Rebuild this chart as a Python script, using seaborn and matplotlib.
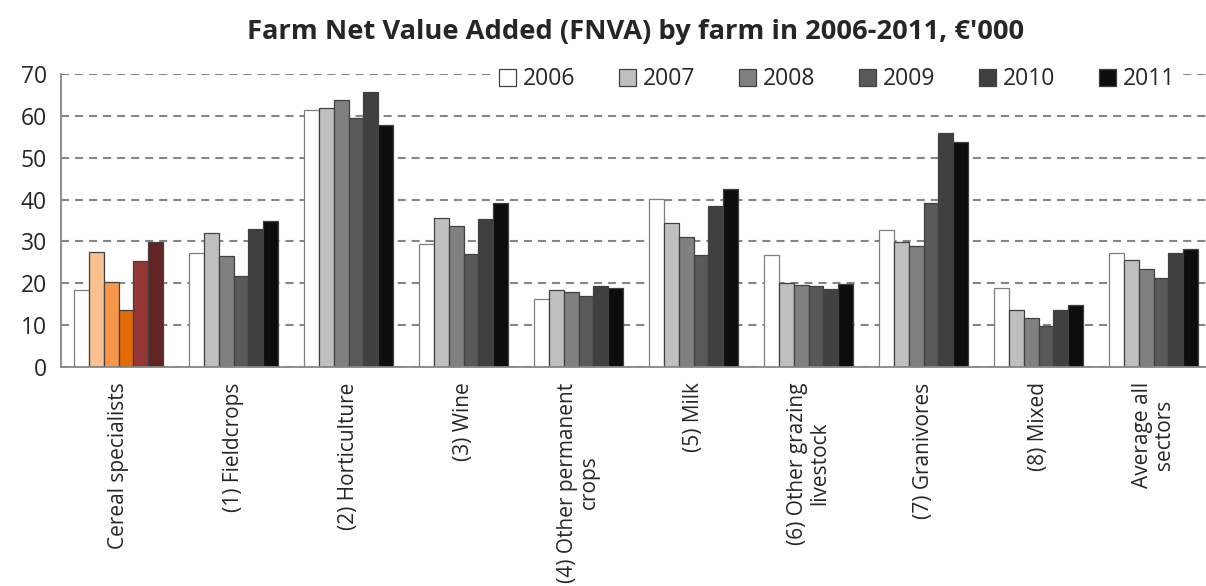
import pandas as pd
import numpy as np
import matplotlib
matplotlib.use("Agg")
import matplotlib.pyplot as plt
import seaborn as sns

sns.set_style("white")
plt.rcParams['font.family'] = ['Open Sans', 'DejaVu Sans']
plt.rcParams['lines.scale_dashes'] = False

categories = ["Cereal specialists", "(1) Fieldcrops", "(2) Horticulture", "(3) Wine",
              "(4) Other permanent\ncrops", "(5) Milk", "(6) Other grazing\nlivestock",
              "(7) Granivores", "(8) Mixed", "Average all\nsectors"]
years = ["2006", "2007", "2008", "2009", "2010", "2011"]

fnva_2006 = [18.4, 27.2, 61.3, 29.3, 16.3, 40.2, 26.8, 32.7, 18.9, 27.2]
fnva_2007 = [27.5, 31.9, 61.8, 35.6, 18.3, 34.5, 20.0, 29.8, 13.6, 25.5]
fnva_2008 = [20.3, 26.6, 63.9, 33.7, 17.8, 31.0, 19.7, 28.8, 11.6, 23.3]
fnva_2009 = [13.5, 21.8, 59.4, 27.0, 16.9, 26.8, 19.3, 39.2, 9.9, 21.2]
fnva_2010 = [25.4, 33.0, 65.7, 35.3, 19.4, 38.5, 18.6, 55.9, 13.7, 27.2]
fnva_2011 = [29.8, 34.9, 57.7, 39.2, 18.9, 42.5, 19.8, 53.8, 14.8, 28.2]

grey_colors = ["#ffffff", "#bfbfbf", "#808080", "#595959", "#404040", "#0d0d0d"]
cereal_colors = ["#ffffff", "#fac090", "#f79646", "#e36c09", "#953735", "#632523"]

series = [fnva_2006, fnva_2007, fnva_2008, fnva_2009, fnva_2010, fnva_2011]
df = pd.DataFrame({
    "sector": categories * len(years),
    "year": [y for y in years for _ in categories],
    "value": [v for s in series for v in s],
})

fig = plt.figure(figsize=(12.06, 5.86), dpi=100)
ax = fig.add_axes([61 / 1206, 1 - 367 / 586, 1150 / 1206, 293 / 586])

sns.barplot(data=df, x="sector", y="value", hue="year", order=categories,
            hue_order=years, palette=grey_colors, width=0.78, gap=0,
            edgecolor="#404040", linewidth=0.9, saturation=1, ax=ax)

# cereal specialists get their own orange/brown palette
for i, cont in enumerate(ax.containers):
    cont[0].set_facecolor(cereal_colors[i])
    if i == 0:
        for bar in cont:
            bar.set_edgecolor("#7f7f7f")

ax.set_ylim(0, 70)
ax.set_xlim(-0.5, 9.5)
ax.set_yticks(range(0, 71, 10))
ax.set_xlabel("")
ax.set_ylabel("")

ax.yaxis.grid(True, color="#868686", linestyle=(0, (5.8, 4.3)), linewidth=1.5)
ax.set_axisbelow(True)

for s in ["top", "right"]:
    ax.spines[s].set_visible(False)
for s in ["left", "bottom"]:
    ax.spines[s].set_color("#868686")
    ax.spines[s].set_linewidth(1.3)

ax.set_xticks(np.arange(-0.5, 10, 1), minor=True)
ax.tick_params(axis="x", which="major", length=0, pad=11)
ax.tick_params(axis="x", which="minor", length=6, color="#868686", width=1.3)
ax.tick_params(axis="y", length=5, color="#868686", width=1.3, labelsize=16.5, pad=5)
ax.set_xticklabels(categories, rotation=90, fontsize=15, ha="center", va="top",
                   multialignment="center", linespacing=1.1)

leg = ax.legend(loc="center", bbox_to_anchor=(0.675, 0.982), ncol=6, frameon=True,
                fontsize=16.5, handlelength=0.75, handleheight=0.75, handletextpad=0.3,
                columnspacing=1.9, borderpad=0.3, fancybox=False, framealpha=1)
leg.get_frame().set_edgecolor("white")
leg.get_frame().set_linewidth(0)
for h in leg.legend_handles:
    h.set_edgecolor("#404040")
    h.set_linewidth(0.9)

ax.set_title("Farm Net Value Added (FNVA) by farm in 2006-2011, \u20ac'000",
             fontsize=19.7, fontweight="bold", pad=25)

fig.savefig("out.png", dpi=100)
